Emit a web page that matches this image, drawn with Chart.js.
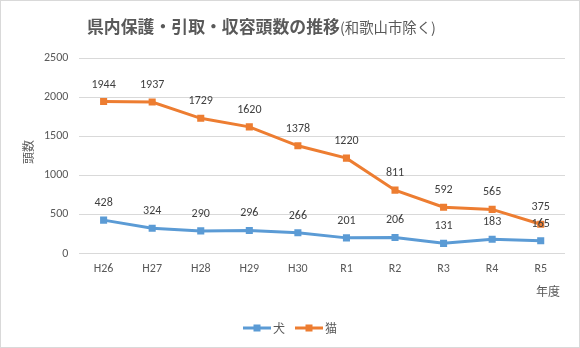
<!DOCTYPE html>
<html>
<head>
<meta charset="utf-8">
<script src="https://cdn.jsdelivr.net/npm/chart.js@4/dist/chart.umd.min.js"></script>
<style>
html,body{margin:0;padding:0;background:#fff;}
#wrap{width:580px;height:348px;position:relative;}
</style>
</head>
<body>
<div id="wrap"><canvas id="c" width="580" height="348"></canvas></div>
<script>
const categories = ['H26','H27','H28','H29','H30','R1','R2','R3','R4','R5'];
const dogValues = [428,324,290,296,266,201,206,131,183,165];
const catValues = [1944,1937,1729,1620,1378,1220,811,592,565,375];
const seriesNames = ['犬','猫'];
const yTicks = [0,500,1000,1500,2000,2500];
const titleMain = '県内保護・引取・収容頭数の推移';
const titleSub = '(和歌山市除く)';
const yTitle = '頭数';
const xTitle = '年度';

const BLUE = '#5B9BD5';
const ORANGE = '#ED7D31';
const TXT = '#595959';
const FONT = "Calibri, 'Liberation Sans', 'Noto Sans CJK JP', sans-serif";
const JFONT = "'Noto Sans CJK JP', sans-serif";

function fitFont(ctx, text, weight, target) {
  ctx.font = weight + " 20px " + JFONT;
  const w = ctx.measureText(text).width;
  return 20 * target / w;
}

const decor = {
  id: 'decor',
  beforeDraw(chart) {
    const ctx = chart.ctx;
    ctx.save();
    ctx.fillStyle = '#fff';
    ctx.fillRect(0, 0, chart.width, chart.height);
    ctx.restore();
  },
  afterDraw(chart) {
    const ctx = chart.ctx;
    ctx.save();
    ctx.strokeStyle = '#d9d9d9';
    ctx.lineWidth = 1;
    ctx.strokeRect(0.5, 0.5, chart.width - 1, chart.height - 1);
    ctx.textBaseline = 'alphabetic';
    const s1 = fitFont(ctx, titleMain, 'bold', 253);
    const s2 = fitFont(ctx, titleSub, 'normal', 96);
    const x0 = 87;
    ctx.fillStyle = TXT;
    ctx.textAlign = 'left';
    ctx.font = "bold " + s1.toFixed(2) + "px " + JFONT;
    ctx.fillText(titleMain, x0, 33);
    ctx.font = "normal " + s2.toFixed(2) + "px " + JFONT;
    ctx.fillText(titleSub, 340, 33);

    ctx.font = "12px " + FONT;
    ctx.fillStyle = '#404040';
    ctx.textAlign = 'center';
    ctx.textBaseline = 'middle';
    chart.data.datasets.forEach((ds, i) => {
      const meta = chart.getDatasetMeta(i);
      meta.data.forEach((pt, j) => {
        ctx.fillText(String(ds.data[j]), pt.x, pt.y - 17);
      });
    });

    const ly = 328;
    const items = [{c: BLUE, t: seriesNames[0]}, {c: ORANGE, t: seriesNames[1]}];
    ctx.font = "12px " + JFONT;
    const lineW = 28, gap = 2, itemGap = 10;
    let total = 0;
    items.forEach((it, k) => { total += lineW + gap + ctx.measureText(it.t).width + (k ? itemGap : 0); });
    let lx = (chart.width - total) / 2;
    items.forEach((it, k) => {
      if (k) lx += itemGap;
      ctx.strokeStyle = it.c;
      ctx.lineWidth = 3;
      ctx.beginPath();
      ctx.moveTo(lx, ly);
      ctx.lineTo(lx + lineW, ly);
      ctx.stroke();
      ctx.fillStyle = it.c;
      ctx.fillRect(lx + lineW / 2 - 3.5, ly - 3.5, 7, 7);
      lx += lineW + gap;
      ctx.fillStyle = TXT;
      ctx.textAlign = 'left';
      ctx.fillText(it.t, lx, ly);
      lx += ctx.measureText(it.t).width;
    });

    ctx.font = "12px " + JFONT;
    ctx.fillStyle = TXT;
    ctx.textAlign = 'right';
    ctx.fillText(xTitle, 560, 291);

    ctx.translate(28, 152);
    ctx.rotate(-Math.PI / 2);
    ctx.textAlign = 'center';
    ctx.fillText(yTitle, 0, 0);
    ctx.restore();
  }
};

new Chart(document.getElementById('c'), {
  type: 'line',
  data: {
    labels: categories,
    datasets: [
      {
        label: seriesNames[0], data: dogValues,
        borderColor: BLUE, backgroundColor: BLUE, borderWidth: 3,
        pointStyle: 'rect', pointRadius: 5, pointHoverRadius: 5,
        pointBackgroundColor: BLUE, pointBorderColor: BLUE, pointBorderWidth: 0,
        tension: 0
      },
      {
        label: seriesNames[1], data: catValues,
        borderColor: ORANGE, backgroundColor: ORANGE, borderWidth: 3,
        pointStyle: 'rect', pointRadius: 5, pointHoverRadius: 5,
        pointBackgroundColor: ORANGE, pointBorderColor: ORANGE, pointBorderWidth: 0,
        tension: 0
      }
    ]
  },
  options: {
    responsive: false,
    animation: false,
    events: [],
    layout: { padding: { top: 58, right: 15, bottom: 64, left: 33 } },
    plugins: { legend: { display: false }, title: { display: false }, tooltip: { enabled: false } },
    scales: {
      x: {
        offset: true,
        grid: { display: false, drawTicks: false },
        border: { display: false },
        ticks: { color: TXT, font: { size: 12, family: FONT }, padding: 8, maxRotation: 0 }
      },
      y: {
        min: 0, max: 2500,
        afterBuildTicks(scale) { scale.ticks = yTicks.map(v => ({ value: v })); },
        grid: { color: '#d9d9d9', drawTicks: false, lineWidth: 1 },
        border: { display: false },
        ticks: { color: TXT, font: { size: 12, family: FONT }, padding: 11, callback: v => String(v) }
      }
    }
  },
  plugins: [decor]
});
</script>
</body>
</html>
